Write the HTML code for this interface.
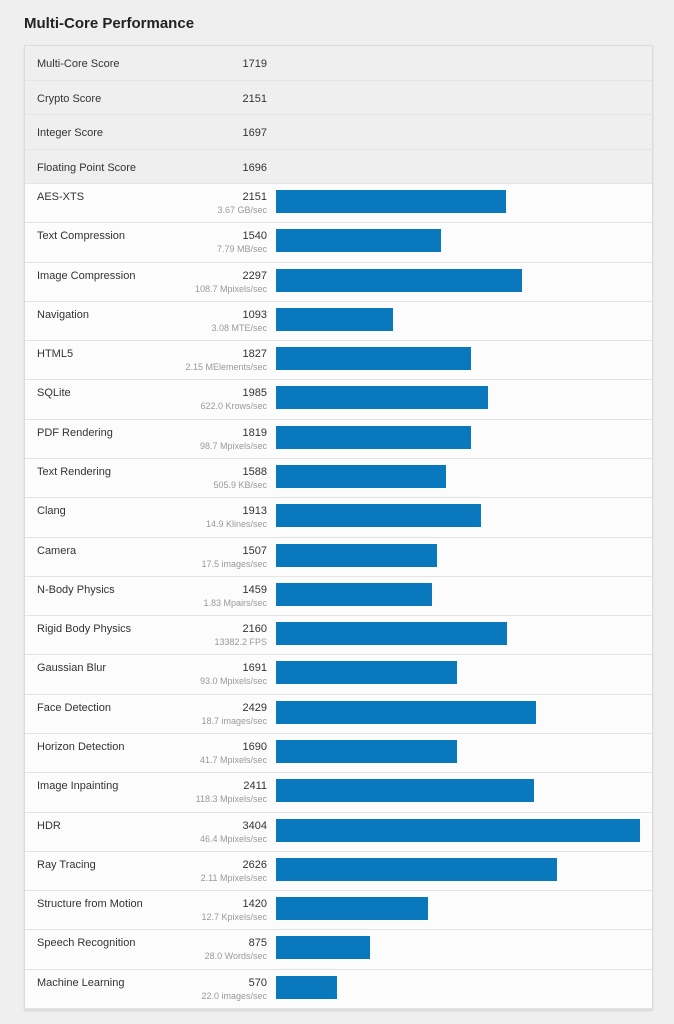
<!DOCTYPE html>
<html><head><meta charset="utf-8"><style>
body{margin:0;width:674px;height:1024px;background:#efefef;font-family:"Liberation Sans",sans-serif;position:relative;overflow:hidden}
#title{position:absolute;left:24px;top:15px;font-size:15px;font-weight:bold;color:#222}
#tbl{position:absolute;left:24px;top:45px;width:627px;height:963px;background:#fcfcfc;border:1px solid #dcdcdc;box-shadow:0 1px 2px rgba(0,0,0,.1)}
.row{position:absolute;left:0;width:627px;border-bottom:1px solid #e4e4e4;box-sizing:border-box}
.sum{background:#efefef;height:34.5px}
.nm{position:absolute;left:12px;font-size:11px;color:#333}
.sc{position:absolute;right:385px;font-size:11px;color:#333;text-align:right}
.sub{position:absolute;right:385px;font-size:9px;color:#999;white-space:nowrap}
.bar{position:absolute;left:251px;height:23px;background:#0a78bd}
</style></head><body>
<div id="title">Multi-Core Performance</div>
<div id="tbl"></div>
<script>
const summaryNames=["Multi-Core Score","Crypto Score","Integer Score","Floating Point Score"];
const summaryValues=[1719,2151,1697,1696];
const categories=["AES-XTS","Text Compression","Image Compression","Navigation","HTML5","SQLite","PDF Rendering","Text Rendering","Clang","Camera","N-Body Physics","Rigid Body Physics","Gaussian Blur","Face Detection","Horizon Detection","Image Inpainting","HDR","Ray Tracing","Structure from Motion","Speech Recognition","Machine Learning"];
const scores=[2151,1540,2297,1093,1827,1985,1819,1588,1913,1507,1459,2160,1691,2429,1690,2411,3404,2626,1420,875,570];
const rates=["3.67 GB/sec","7.79 MB/sec","108.7 Mpixels/sec","3.08 MTE/sec","2.15 MElements/sec","622.0 Krows/sec","98.7 Mpixels/sec","505.9 KB/sec","14.9 Klines/sec","17.5 images/sec","1.83 Mpairs/sec","13382.2 FPS","93.0 Mpixels/sec","18.7 images/sec","41.7 Mpixels/sec","118.3 Mpixels/sec","46.4 Mpixels/sec","2.11 Mpixels/sec","12.7 Kpixels/sec","28.0 Words/sec","22.0 images/sec"];
const tbl=document.getElementById('tbl');
const x=v=>v*364/3404;
summaryNames.forEach((n,i)=>{
 const r=document.createElement('div');r.className='row sum';r.style.top=(i*34.5)+'px';
 
 
 r.innerHTML='<span class="nm" style="top:12px">'+n+'</span><span class="sc" style="top:12px">'+summaryValues[i]+'</span>';
 tbl.appendChild(r);
});
const rh=(963-138)/categories.length;
categories.forEach((n,i)=>{
 const r=document.createElement('div');r.className='row';r.style.top=(138+i*rh)+'px';r.style.height=rh+'px';
 
 
 r.innerHTML='<span class="nm" style="top:7px">'+n+'</span><span class="sc" style="top:7px">'+scores[i]+'</span><span class="sub" style="top:21px">'+rates[i]+'</span>';
 const b=document.createElement('div');b.className='bar';b.style.top='6px';b.style.width=x(scores[i])+'px';
 
 
 r.appendChild(b);tbl.appendChild(r);
});
</script>
</body></html>
